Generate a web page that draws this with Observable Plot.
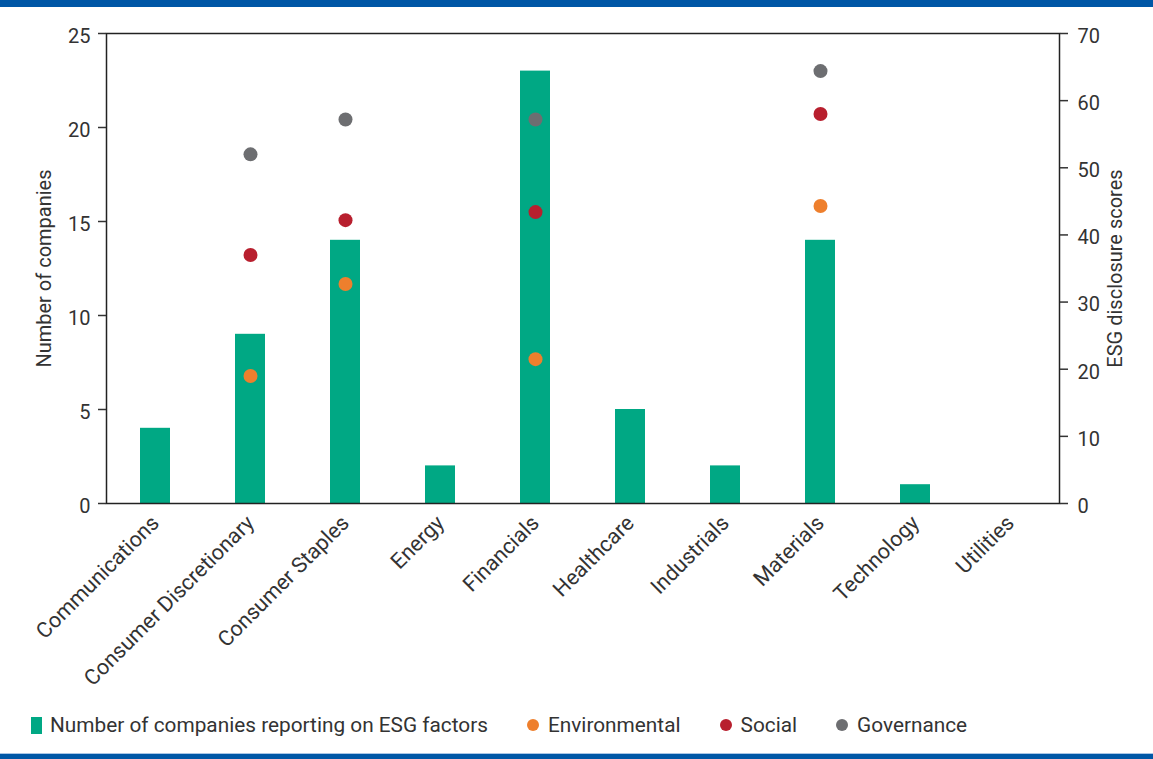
<!DOCTYPE html>
<html>
<head>
<meta charset="utf-8">
<script src="https://cdn.jsdelivr.net/npm/d3@7"></script>
<script src="https://cdn.jsdelivr.net/npm/@observablehq/plot@0.6"></script>
<style>
  html, body { margin: 0; padding: 0; background: #fff; }
  body { width: 1153px; height: 759px; position: relative; overflow: hidden; font-family: Roboto, "Noto Sans", sans-serif; color: #333; }
  #topbar { position: absolute; left: 0; top: 0; width: 1153px; height: 7px; background: #0057a6; }
  #chart { position: absolute; left: 0; top: 0; }
  #legend { position: absolute; left: 31px; top: 713px; display: flex; align-items: center; font-size: 20.8px; color: #333; }
  #legend .item { display: flex; align-items: center; margin-right: 39px; }
  #legend .sw { width: 11px; height: 17px; margin-right: 8px; }
  #legend .dot { width: 12px; height: 12px; border-radius: 50%; margin-right: 9px; }
  #bottomline { position: absolute; left: 0; top: 753px; width: 1153px; height: 1px; background: #a9c6e6; }
  #bottombar { position: absolute; left: 0; top: 754px; width: 1153px; height: 5px; background: #0057a6; }
</style>
</head>
<body>
<div id="chart"></div>
<div id="topbar"></div>
<div id="legend"></div>
<div id="bottomline"></div>
<div id="bottombar"></div>
<script>
const categories = ["Communications", "Consumer Discretionary", "Consumer Staples", "Energy", "Financials", "Healthcare", "Industrials", "Materials", "Technology", "Utilities"];
const companies = [4, 9, 14, 2, 23, 5, 2, 14, 1, 0];
const environmental = [null, 19, 32.7, null, 21.5, null, null, 44.3, null, null];
const social = [null, 37, 42.2, null, 43.4, null, null, 58, null, null];
const governance = [null, 52, 57.2, null, 57.2, null, null, 64.4, null, null];
const leftTicks = [0, 5, 10, 15, 20, 25];
const rightTicks = [0, 10, 20, 30, 40, 50, 60, 70];
const leftMax = 25, rightMax = 70;

const colors = {
  bar: "#00a884",
  Environmental: "#ee7f2d",
  Social: "#b81f2e",
  Governance: "#6d6e71"
};

const barData = categories.map((c, i) => ({category: c, count: companies[i]}));
const dotData = [];
[["Environmental", environmental], ["Social", social], ["Governance", governance]].forEach(([name, arr]) => {
  arr.forEach((v, i) => { if (v != null) dotData.push({category: categories[i], series: name, score: v}); });
});
const toLeft = v => v * leftMax / rightMax;
const rightFormat = d => String(Math.round(d * rightMax / leftMax));

const plot = Plot.plot({
  width: 1153,
  height: 700,
  marginTop: 33,
  marginBottom: 197,
  marginLeft: 106,
  marginRight: 94,
  style: {fontFamily: "Roboto, 'Noto Sans', sans-serif", fontSize: "20px", color: "#333", background: "transparent"},
  x: {domain: categories, type: "band", paddingInner: 0.685, paddingOuter: 0.3425},
  y: {domain: [0, leftMax]},
  marks: [
    Plot.barY(barData, {x: "category", y: "count", fill: colors.bar}),
    Plot.dot(dotData, {x: "category", y: d => toLeft(d.score), r: 7, fill: d => colors[d.series], stroke: "none"}),
    Plot.frame({stroke: "#222", strokeWidth: 1.5}),
    // left axis: tick marks, then shifted labels
    Plot.axisY(leftTicks, {anchor: "left", tickSize: 8, strokeWidth: 1.5, tickFormat: () => "", label: null}),
    Plot.axisY(leftTicks, {anchor: "left", tickSize: 0, tickPadding: 16, dy: 3, label: "Number of companies", labelAnchor: "center", labelOffset: 70, labelArrow: false}),
    // right axis
    Plot.axisY(rightTicks.map(toLeft), {anchor: "right", tickSize: 8, strokeWidth: 1.5, tickFormat: () => "", label: null}),
    Plot.axisY(rightTicks.map(toLeft), {anchor: "right", tickSize: 0, tickPadding: 18, dy: 3, tickFormat: rightFormat, label: "ESG disclosure scores", labelAnchor: "center", labelOffset: 62, labelArrow: false}),
    Plot.axisX({tickSize: 0, tickPadding: 16, tickRotate: -45, fontSize: "21.5px", label: null})
  ]
});
document.getElementById("chart").appendChild(plot);

const legend = document.getElementById("legend");
const items = [
  {label: "Number of companies reporting on ESG factors", color: colors.bar, kind: "sw"},
  {label: "Environmental", color: colors.Environmental, kind: "dot"},
  {label: "Social", color: colors.Social, kind: "dot"},
  {label: "Governance", color: colors.Governance, kind: "dot"}
];
items.forEach(it => {
  const d = document.createElement("div");
  d.className = "item";
  const s = document.createElement("span");
  s.className = it.kind;
  s.style.background = it.color;
  d.appendChild(s);
  const t = document.createElement("span");
  t.textContent = it.label;
  d.appendChild(t);
  legend.appendChild(d);
});
</script>
</body>
</html>
